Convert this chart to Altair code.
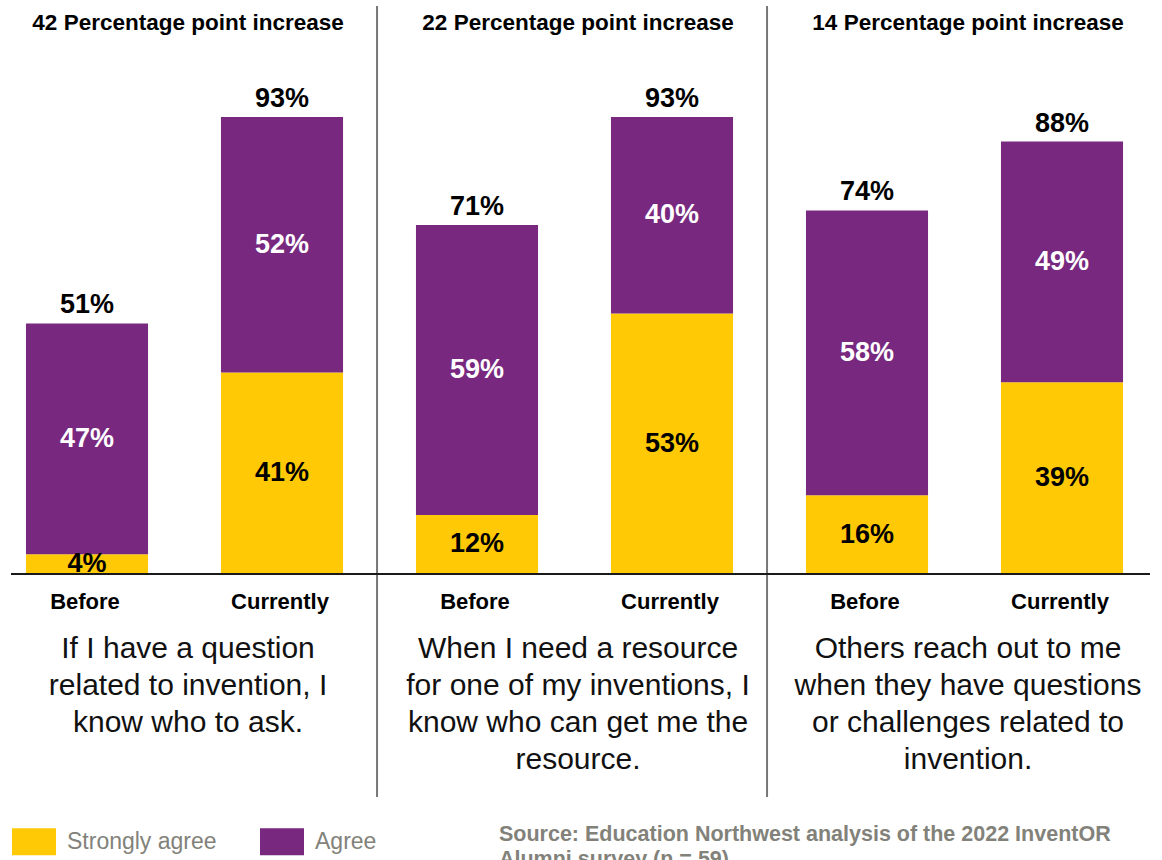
import altair as alt
import pandas as pd

# ---------------- data ----------------
panel_titles = ["42 Percentage point increase",
                "22 Percentage point increase",
                "14 Percentage point increase"]
statements = [
    "If I have a question\nrelated to invention, I\nknow who to ask.",
    "When I need a resource\nfor one of my inventions, I\nknow who can get me the\nresource.",
    "Others reach out to me\nwhen they have questions\nor challenges related to\ninvention.",
]
periods = ["Before", "Currently"]
categories = ["Strongly agree", "Agree"]
strongly_agree = [4, 41, 12, 53, 16, 39]   # Q1 before, Q1 current, Q2 before, ...
agree = [47, 52, 59, 40, 58, 49]
source_text = "Source: Education Northwest analysis of the 2022 InventOR\nAlumni survey (n = 59)"

YELLOW = "#FFCA05"
PURPLE = "#78297F"
GREY_TXT = "#82827a"
FONT = "'Liberation Sans', Arial, Helvetica, sans-serif"

keys = [f"{q}-{p}" for q in range(3) for p in periods]

rows = []
for i, k in enumerate(keys):
    q, p = i // 2, periods[i % 2]
    rows.append({"key": k, "q": q, "period": p, "cat": categories[0],
                 "value": strongly_agree[i], "ord": 0})
    rows.append({"key": k, "q": q, "period": p, "cat": categories[1],
                 "value": agree[i], "ord": 1})
df = pd.DataFrame(rows)

panels = pd.DataFrame({"key": [f"{q}-Before" for q in range(3)],
                       "title": panel_titles, "statement": statements})
seps = pd.DataFrame({"key": ["0-Currently", "1-Currently"]})
base_line = pd.DataFrame({"v": [0]})
source = pd.DataFrame({"key": ["1-Before"], "text": [source_text]})

# ---------------- scales ----------------
xscale = alt.Scale(domain=keys, paddingInner=0.374, paddingOuter=0.1075, align=0.357)
yscale = alt.Scale(domain=[-45.4, 115.6], nice=False, zero=False)

def X(**kw):
    return alt.X("key:N", scale=xscale, axis=None, **kw)

stacked = alt.Chart(df).transform_stack(
    stack="value", groupby=["key"], as_=["y0", "y1"],
    sort=[alt.SortField("ord", "ascending")])

bars = stacked.mark_bar().encode(
    x=X(),
    y=alt.Y("y0:Q", scale=yscale, axis=None),
    y2="y1:Q",
    color=alt.Color("cat:N",
                    scale=alt.Scale(domain=categories, range=[YELLOW, PURPLE]),
                    legend=alt.Legend(orient="none", legendX=1, legendY=813.5,
                                      direction="horizontal", title=None,
                                      symbolType="M-1,-0.614H1V0.614H-1Z",
                                      symbolSize=1936, symbolStrokeWidth=0,
                                      symbolOpacity=1,
                                      labelFontSize=23, labelColor=GREY_TXT,
                                      labelFont=FONT, labelOffset=11,
                                      columnPadding=43, padding=0)),
)

seg_labels = stacked.transform_calculate(
    mid="(datum.y0 + datum.y1) / 2", lbl="datum.value + '%'"
).mark_text(font=FONT, fontSize=27, fontWeight="bold", baseline="middle").encode(
    x=X(),
    y=alt.Y("mid:Q", scale=yscale, axis=None),
    text="lbl:N",
    color=alt.condition("datum.cat == 'Agree'", alt.value("white"), alt.value("black")),
)

totals = alt.Chart(df).transform_aggregate(
    total="sum(value)", groupby=["key"]
).transform_calculate(lbl="datum.total + '%'").mark_text(
    font=FONT, fontSize=27, fontWeight="bold", baseline="alphabetic", dy=-10,
    color="black"
).encode(x=X(), y=alt.Y("total:Q", scale=yscale, axis=None), text="lbl:N")

period_labels = alt.Chart(df).transform_filter("datum.cat == 'Agree'").mark_text(
    font=FONT, fontSize=22, fontWeight="bold", baseline="alphabetic", color="black",
    dx=-2
).encode(x=X(), y=alt.datum(-7.1), text="period:N")

titles = alt.Chart(panels).mark_text(
    font=FONT, fontSize=22.5, fontWeight="bold", baseline="alphabetic",
    color="black", dx=40, align="center"
).encode(x=X(bandPosition=1), y=alt.datum(110.7), text="title:N")

descr = alt.Chart(panels).mark_text(
    font=FONT, fontSize=30, baseline="alphabetic", color="#111111",
    dx=40, align="center", lineBreak="\n", lineHeight=37
).encode(x=X(bandPosition=1), y=alt.datum(-17.1), text="statement:N")

separators = alt.Chart(seps).mark_rule(
    color="#777777", strokeWidth=2, xOffset=34
).encode(x=X(bandPosition=1))

baseline = alt.Chart(base_line).mark_rule(color="#1a1a1a", strokeWidth=2).encode(
    y=alt.Y("v:Q", scale=yscale, axis=None))

source_note = alt.Chart(source).mark_text(
    font=FONT, fontSize=21.5, fontWeight="bold", color=GREY_TXT, align="left",
    baseline="alphabetic", lineBreak="\n", lineHeight=25, dx=83
).encode(x=X(bandPosition=0), y=alt.datum(-54.3), text="text:N")

chart = alt.layer(
    bars, separators, baseline, seg_labels, totals, period_labels, titles, descr,
    source_note
).properties(
    width=1139, height=791, autosize="none",
    padding={"left": 11, "top": 6, "right": 12, "bottom": 63},
).configure_view(stroke=None)

chart.save("out.html", embed_options={"renderer": "svg", "actions": False})
